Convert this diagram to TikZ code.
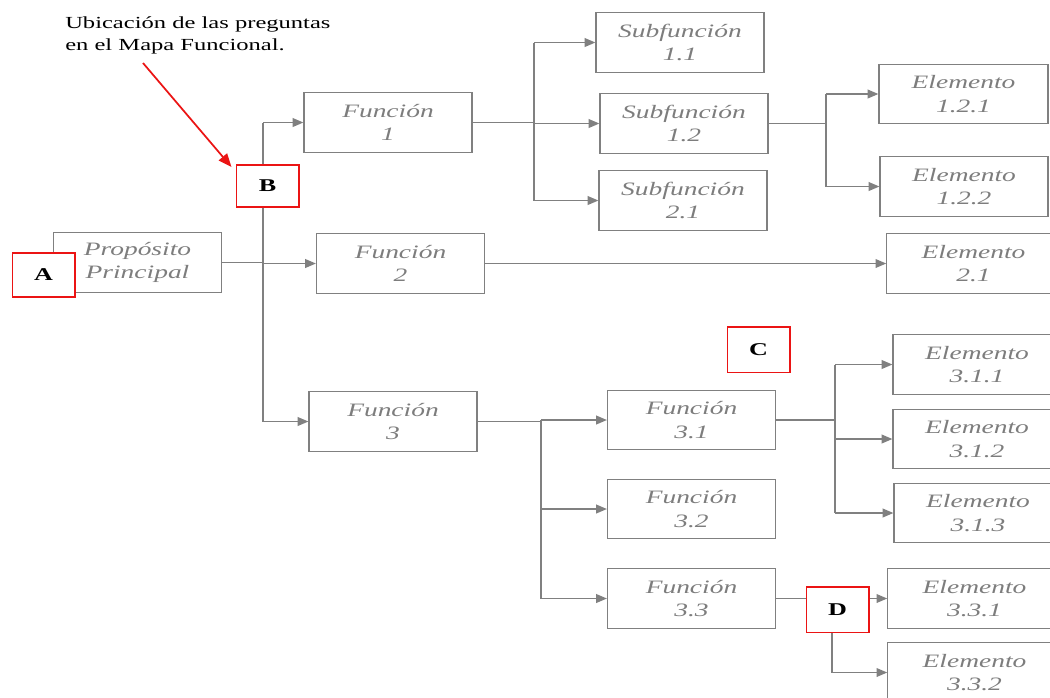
\documentclass[tikz,border=0pt]{standalone}
\usepackage{fontspec}
\setmainfont{Liberation Serif}[FakeStretch=1.45]
\newfontfamily\boxfont{Liberation Serif}[FakeStretch=1.45]
\usetikzlibrary{arrows.meta}
\definecolor{lngray}{RGB}{128,128,128}
\definecolor{txgray}{RGB}{125,125,125}
\definecolor{redbox}{RGB}{235,20,20}
\tikzset{
  ln/.style={draw=lngray, line width=1.1pt},
  arr/.style={ln, -{Triangle[length=8pt,width=6.5pt]}},
  gbox/.style={draw=lngray, line width=0.9pt, fill=white, inner sep=0pt,
    minimum width=126pt, minimum height=44.5pt, align=center,
    font=\boxfont\itshape\fontsize{14.2}{17.5}\selectfont, text=txgray},
  rbox/.style={draw=redbox, line width=1pt, fill=white, inner sep=0pt,
    minimum width=47pt, minimum height=33pt,
    font=\bfseries\fontsize{13.5}{16}\selectfont, text=black},
  redarr/.style={draw=redbox, line width=1.3pt, -{Triangle[length=10pt,width=8pt]}},
}
\begin{document}
\begin{tikzpicture}[x=0.75pt, y=-0.75pt]
\useasboundingbox (0,0) rectangle (1050,697);
\clip (0,0) rectangle (1050,697);
\fill[white] (0,0) rectangle (1050,697);

% title
\node[anchor=base west, inner sep=0pt, font=\fontsize{12.7}{16.5}\selectfont, align=left] (title) at (65,50)
  {Ubicación de las preguntas\\en el Mapa Funcional.};

% boxes
\node[gbox] (pp) at (137.5,262.5) {Propósito\\Principal};
\node[gbox] (f1) at (388,122.5) {Función\\1};
\node[gbox] (f2) at (400.5,263.5) {Función\\2};
\node[gbox] (f3) at (393,421.5) {Función\\3};
\node[gbox] (s11) at (680,42.5) {Subfunción\\1.1};
\node[gbox] (s12) at (684,123.5) {Subfunción\\1.2};
\node[gbox] (s21) at (683,200.5) {Subfunción\\2.1};
\node[gbox, minimum width=126.75pt] (e121) at (963.5,94) {Elemento\\1.2.1};
\node[gbox, minimum width=126pt] (e122) at (964,186.5) {Elemento\\1.2.2};
\node[gbox, minimum width=130pt] (e21) at (973.5,263.5) {Elemento\\2.1};
\node[gbox] (f31) at (691.5,420) {Función\\3.1};
\node[gbox] (f32) at (691.5,509) {Función\\3.2};
\node[gbox] (f33) at (691.5,598.5) {Función\\3.3};
\node[gbox, minimum width=126pt] (e311) at (977,364.5) {Elemento\\3.1.1};
\node[gbox, minimum width=126pt] (e312) at (977,439) {Elemento\\3.1.2};
\node[gbox, minimum width=126pt] (e313) at (978,513) {Elemento\\3.1.3};
\node[gbox, minimum width=130pt] (e331) at (974.5,598.5) {Elemento\\3.3.1};
\node[gbox, minimum width=130pt] (e332) at (974.5,672.5) {Elemento\\3.3.2};

% connectors
\coordinate (j0) at (263,262.5);
\draw[ln] (pp.east) -- (j0);
\draw[ln] (j0 |- f1.west) -- (j0 |- f3.west);
\draw[arr] (j0 |- f1.west) -- (f1.west);
\draw[arr] (j0 |- f2.west) -- (f2.west);
\draw[arr] (j0 |- f3.west) -- (f3.west);

\coordinate (j1) at (534,122.5);
\draw[ln] (f1.east) -- (j1);
\draw[ln] (j1 |- s11.west) -- (j1 |- s21.west);
\draw[arr] (j1 |- s11.west) -- (s11.west);
\draw[arr] (j1 |- s12.west) -- (s12.west);
\draw[arr] (j1 |- s21.west) -- (s21.west);

\coordinate (j2) at (826,123.5);
\draw[ln] (s12.east) -- (j2);
\draw[ln] (j2 |- e121.west) -- (j2 |- e122.west);
\draw[arr] (j2 |- e121.west) -- (e121.west);
\draw[arr] (j2 |- e122.west) -- (e122.west);

\draw[arr] (f2.east) -- (e21.west);

\coordinate (j3) at (541,421.5);
\draw[ln] (f3.east) -- (j3);
\draw[ln] (j3 |- f31.west) -- (j3 |- f33.west);
\draw[arr] (j3 |- f31.west) -- (f31.west);
\draw[arr] (j3 |- f32.west) -- (f32.west);
\draw[arr] (j3 |- f33.west) -- (f33.west);

\coordinate (j4) at (835,420);
\draw[ln] (f31.east) -- (j4);
\draw[ln] (j4 |- e311.west) -- (j4 |- e313.west);
\draw[arr] (j4 |- e311.west) -- (e311.west);
\draw[arr] (j4 |- e312.west) -- (e312.west);
\draw[arr] (j4 |- e313.west) -- (e313.west);

\coordinate (j5) at (832,598.5);
\draw[ln] (f33.east) -- (j5);
\draw[arr] (j5) -- (e331.west);
\draw[ln] (j5) -- (j5 |- e332.west);
\draw[arr] (j5 |- e332.west) -- (e332.west);

% red question markers
\node[rbox] (A) at (43.5,275) {A};
\node[rbox, minimum height=31.5pt] (B) at (267.5,186) {B};
\node[rbox, minimum height=34pt] (C) at (758.5,349.5) {C};
\node[rbox, minimum height=34pt] (D) at (837.5,609.5) {D};

% red pointer
\coordinate (ptr) at (143,63);
\draw[redarr] (ptr) -- ([xshift=-3pt,yshift=-2pt]B.north west);
\end{tikzpicture}
\end{document}
